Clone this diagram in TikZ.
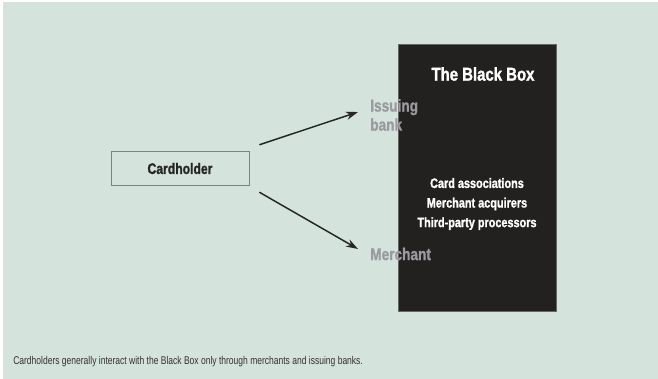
\documentclass[tikz,border=0pt]{standalone}
\usepackage{fontspec}
\setmainfont{Liberation Sans}[
  FakeStretch=0.76,
  BoldFont={Liberation Sans Bold},
  BoldFeatures={FakeStretch=0.8, FakeBold=1.2}]
\usepackage{xcolor}
\usetikzlibrary{arrows.meta,positioning}

\definecolor{panelbg}{HTML}{D4E3DC}
\definecolor{boxblack}{HTML}{22211F}
\definecolor{labelgray}{HTML}{9A9A9F}
\definecolor{captiongray}{HTML}{333333}

\begin{document}
\begin{tikzpicture}[
  x=0.75pt, y=-0.75pt,
  actorbox/.style={draw=black!50, line width=0.6pt, fill=panelbg, minimum width=103.5pt, minimum height=26pt, font=\bfseries\fontsize{11.4}{13}\selectfont, text=black!85},
  blackbox/.style={draw=black!60, fill=boxblack, minimum width=118.5pt, minimum height=200.5pt, inner sep=0pt},
  sidelabel/.style={font=\bfseries\fontsize{12.8}{14.3}\selectfont, text=labelgray, align=left, inner sep=0pt, anchor=west},
  flow/.style={->, line width=1.1pt, black!85},
  >={Stealth[length=9pt,width=6pt]}
]
% page and panel
\useasboundingbox (0,0) rectangle (658,379);
\fill[white] (0,0) rectangle (658,379);
\fill[panelbg] (3,2) rectangle (658,379);

% the black box and what sits inside it
\node[blackbox] (bbox) at (477,178) {};
\node[font=\bfseries\fontsize{14}{17}\selectfont, text=white] (bbtitle) at (483,74) {The Black Box};
\node[font=\bfseries\fontsize{10.2}{14.7}\selectfont, text=white, align=center] (members) at (477,204)
  {Card associations\\Merchant acquirers\\Third-party processors};

% the cardholder and the two parties it reaches
\node[actorbox] (holder) at (180,168.5) {Cardholder};
\node[sidelabel] (issuing) at (370,115) {Issuing\\bank};
\node[sidelabel] (merchant) at (370,254) {Merchant};

\draw[flow] ([shift={(10,-6)}]holder.north east) -- ([shift={(-12,-3)}]issuing.west);
\draw[flow] ([shift={(10,6)}]holder.south east) -- ([shift={(-12,-5)}]merchant.west);

\node[font=\fontsize{8.4}{10}\selectfont, text=captiongray, anchor=west, inner sep=0pt] (caption) at (13,362)
  {Cardholders generally interact with the Black Box only through merchants and issuing banks.};
\end{tikzpicture}
\end{document}
